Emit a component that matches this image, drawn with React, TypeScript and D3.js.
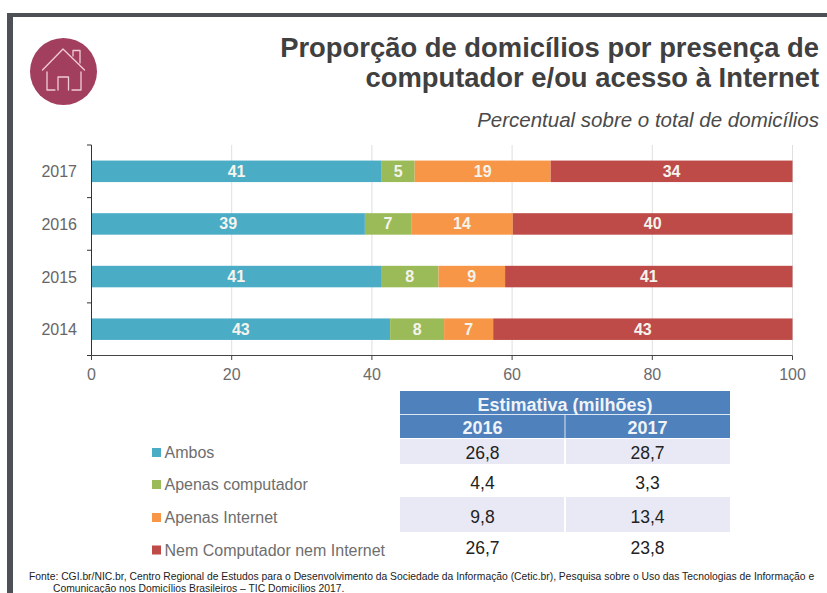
import React from "react";
import * as d3 from "d3";

const years = ["2017", "2016", "2015", "2014"];
const seriesNames = ["Ambos", "Apenas computador", "Apenas Internet", "Nem Computador nem Internet"];
const seriesColors = ["#4bacc6", "#9bbb59", "#f79646", "#be4b48"];
const ambos = [41.4, 39, 41.3, 42.6];
const apenasComputador = [4.7, 6.6, 8.2, 7.7];
const apenasInternet = [19.4, 14.5, 9.5, 7];
const nem = [34.5, 39.9, 41, 42.7];
const labels = [
  [41, 39, 41, 43],
  [5, 7, 8, 8],
  [19, 14, 9, 7],
  [34, 40, 41, 43],
];
const xTicks = [0, 20, 40, 60, 80, 100];
const tableYears = ["2016", "2017"];
const estimates = [
  ["26,8", "28,7"],
  ["4,4", "3,3"],
  ["9,8", "13,4"],
  ["26,7", "23,8"],
];
const rowEdges = [439, 464, 497, 532, 564];
const rowBaseline = [459, 489, 523, 554];
const legendBaseline = [458, 490, 523, 555.5];
const FONT = "'Liberation Sans', Arial, sans-serif";

export default function App() {
  const x = d3.scaleLinear().domain([0, 100]).range([91.5, 792.5]);
  const y = d3.scaleBand().domain(years).range([145, 355.5]);
  const rows = years.map((yr, i) => ({
    yr, a: ambos[i], b: apenasComputador[i], c: apenasInternet[i], d: nem[i],
  }));
  const stacked = d3.stack<any>().keys(["a", "b", "c", "d"])(rows);
  const barH = 21.5;
  const colX = d3.scaleBand().domain(tableYears).range([400, 730]);
  return (
    <svg width={827} height={593} style={{ position: "fixed", left: 0, top: 0, background: "#fff" }} fontFamily={FONT}>
      <rect x={7} y={13} width={820} height={4} fill="#4d5054" />
      <rect x={7} y={13} width={6} height={580} fill="#4d5054" />

      <circle cx={63.5} cy={71.5} r={33.5} fill="#a33f5e" />
      <g fill="none" stroke="#f0ccd5" strokeWidth={1.3} strokeLinecap="round" strokeLinejoin="round">
        <path d="M42.5 70 L63 49 L84.5 70" />
        <path d="M73 56 V50.5 H80 V63" />
        <path d="M47 72 V90 H55 M72 90 H81 V72" />
        <path d="M58 90 V77 H68.5 V90" />
      </g>

      <text x={819} y={57} textAnchor="end" fontSize={27.4} fontWeight="bold" fill="#404040">Proporção de domicílios por presença de</text>
      <text x={819} y={87} textAnchor="end" fontSize={27.4} fontWeight="bold" fill="#404040">computador e/ou acesso à Internet</text>
      <text x={819} y={126.5} textAnchor="end" fontSize={20.5} fontStyle="italic" fill="#4a4a4a">Percentual sobre o total de domicílios</text>

      {xTicks.slice(1).map((t) => (
        <line key={t} x1={x(t)} x2={x(t)} y1={145} y2={355} stroke="#dfdfdf" />
      ))}

      {stacked.map((s, si) =>
        s.map((d, i) => {
          const yr = years[i];
          const top = y(yr)! + (y.bandwidth() - barH) / 2;
          return (
            <g key={yr + si}>
              <rect x={x(d[0])} y={top} width={x(d[1]) - x(d[0])} height={barH} fill={seriesColors[si]} />
              <text x={(x(d[0]) + x(d[1])) / 2} y={top + barH / 2 + 5.5} textAnchor="middle" fontSize={16} fontWeight="bold" fill="#f4f4ee">
                {labels[si][i]}
              </text>
            </g>
          );
        })
      )}

      <line x1={91.5} x2={91.5} y1={145} y2={355.5} stroke="#333" />
      <line x1={87} x2={792.5} y1={355.5} y2={355.5} stroke="#444" />
      {[...years.map((yr) => y(yr)!), 355.5].map((p, i) => (
        <line key={i} x1={87} x2={91.5} y1={p} y2={p} stroke="#333" />
      ))}
      {xTicks.map((t) => (
        <g key={t}>
          <line x1={x(t)} x2={x(t)} y1={355.5} y2={360} stroke="#444" />
          <text x={x(t)} y={380} textAnchor="middle" fontSize={16} fill="#6b6b6b">{t}</text>
        </g>
      ))}
      {years.map((yr) => (
        <text key={yr} x={77} y={y(yr)! + y.bandwidth() / 2 + 6} textAnchor="end" fontSize={16} fill="#666">{yr}</text>
      ))}

      <rect x={400} y={391} width={330} height={47} fill="#4f81bd" />
      <line x1={400} x2={730} y1={414.5} y2={414.5} stroke="#dce6f1" />
      <line x1={565} x2={565} y1={415} y2={438} stroke="#dce6f1" />
      <text x={565} y={410.5} textAnchor="middle" fontSize={18} fontWeight="bold" fill="#f0f3f7">Estimativa (milhões)</text>
      {tableYears.map((t) => (
        <text key={t} x={colX(t)! + colX.bandwidth() / 2} y={434} textAnchor="middle" fontSize={18} fontWeight="bold" fill="#f0f3f7">{t}</text>
      ))}
      {[0, 2].map((r) => (
        <g key={r}>
          <rect x={400} y={rowEdges[r]} width={164} height={rowEdges[r + 1] - rowEdges[r]} fill="#e9e9f6" />
          <rect x={566} y={rowEdges[r]} width={164} height={rowEdges[r + 1] - rowEdges[r]} fill="#e9e9f6" />
        </g>
      ))}
      {estimates.map((row, r) =>
        row.map((v, c) => (
          <text key={r + "-" + c} x={colX(tableYears[c])! + colX.bandwidth() / 2} y={rowBaseline[r]} textAnchor="middle" fontSize={17.5} fill="#222">{v}</text>
        ))
      )}

      {seriesNames.map((n, i) => (
        <g key={n}>
          <rect x={152} y={legendBaseline[i] - 10} width={9} height={9} fill={seriesColors[i]} />
          <text x={164.5} y={legendBaseline[i]} fontSize={16} fill="#6e6e6e">{n}</text>
        </g>
      ))}

      <text x={29} y={580} fontSize={10.33} fill="#222">Fonte: CGI.br/NIC.br, Centro Regional de Estudos para o Desenvolvimento da Sociedade da Informação (Cetic.br), Pesquisa sobre o Uso das Tecnologias de Informação e</text>
      <text x={53} y={592} fontSize={10.33} fill="#222">Comunicação nos Domicílios Brasileiros – TIC Domicílios 2017.</text>
    </svg>
  );
}
